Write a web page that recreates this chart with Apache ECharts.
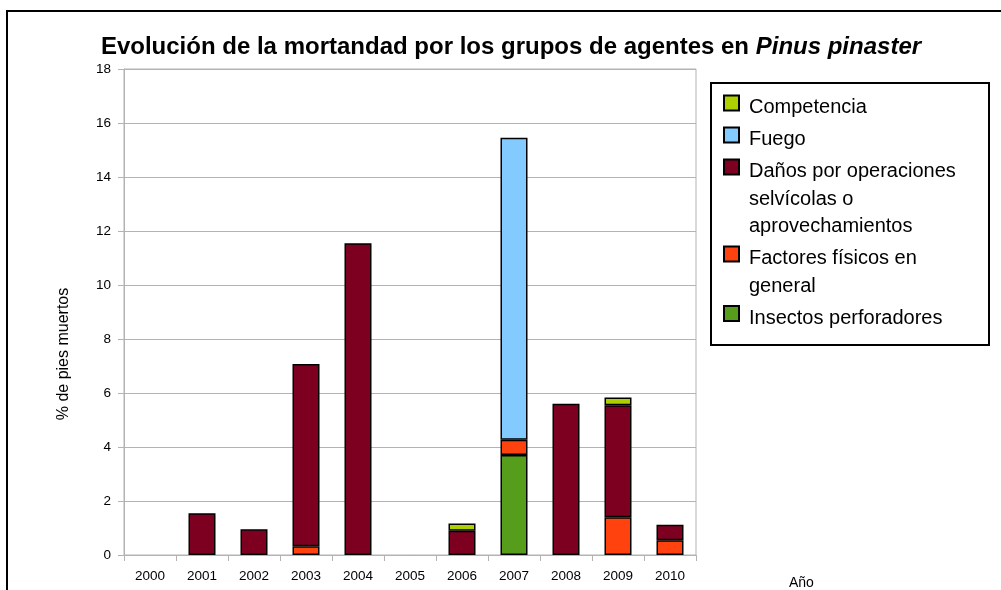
<!DOCTYPE html>
<html>
<head>
<meta charset="utf-8">
<title>Evolución de la mortandad - Pinus pinaster</title>
<script src="https://cdn.jsdelivr.net/npm/echarts@6/dist/echarts.min.js"></script>
<style>
html, body { margin: 0; padding: 0; background: #fff; }
#charts { width: 1001px; height: 590px; }
</style>
</head>
<body>
<div id="charts"></div>
<script>
var years = ['2000', '2001', '2002', '2003', '2004', '2005', '2006', '2007', '2008', '2009', '2010'];

// % de pies muertos, de abajo a arriba en la pila
var insectos    = [0, 0,    0,    0,    0,     0, 0,    3.7,   0,   0,    0];
var factores    = [0, 0,    0,    0.32, 0,     0, 0,    0.57,  0,   1.4,  0.55];
var danos       = [0, 1.55, 0.95, 6.75, 11.55, 0, 0.9,  0,     5.6, 4.15, 0.57];
var fuego       = [0, 0,    0,    0,    0,     0, 0,    11.18, 0,   0,    0];
var competencia = [0, 0,    0,    0,    0,     0, 0.27, 0,     0,   0.28, 0];

var seriesNames = ['Insectos perforadores', 'Factores físicos en general',
    'Daños por operaciones selvícolas o aprovechamientos', 'Fuego', 'Competencia'];
var seriesData = [insectos, factores, danos, fuego, competencia];
var seriesColors = ['#579d1c', '#ff420e', '#7e0021', '#83caff', '#aecf00'];

// texto de la leyenda partido en lineas, mismo orden que seriesNames
var legendLines = [
    ['Insectos perforadores'],
    ['Factores físicos en', 'general'],
    ['Daños por operaciones', 'selvícolas o', 'aprovechamientos'],
    ['Fuego'],
    ['Competencia']
];

var yMin = 0, yMax = 18, yStep = 2;

var charts;

init();

function init() {
    charts = echarts.init(document.getElementById('charts'));
    charts.setOption(buildOption());
}

function buildSeries() {
    var list = [];
    for (var i = 0; i < seriesNames.length; i++) {
        var vals = [];
        for (var j = 0; j < seriesData[i].length; j++) {
            vals.push(seriesData[i][j] === 0 ? null : seriesData[i][j]);
        }
        list.push({
            name: seriesNames[i],
            type: 'bar',
            stack: 'total',
            barWidth: 27,
            data: vals,
            itemStyle: { color: seriesColors[i], borderColor: '#000', borderWidth: 1.5 },
            emphasis: { disabled: true }
        });
    }
    return list;
}

/*
 * una leyenda por elemento, para poder alinear el cuadro con la primera linea
 */
function buildLegends() {
    var lineH = 27.5;
    var gap = 32;
    var center = 106.5;
    var legends = [];
    for (var k = seriesNames.length - 1; k >= 0; k--) {
        var n = legendLines[k].length;
        var h = n * lineH;
        var a = lineH / 2 - 12;
        var icon = 'path://M0,0M20,' + h + 'M0,' + a + 'L15,' + a + 'L15,' + (a + 15) + 'L0,' + (a + 15) + 'Z';
        legends.push({
            data: [{ name: seriesNames[k], icon: icon }],
            left: 723,
            top: center - lineH / 2,
            padding: 0,
            itemWidth: 20,
            itemHeight: h,
            selectedMode: false,
            formatter: (function (lines) {
                return function () { return lines.join('\n'); };
            })(legendLines[k]),
            textStyle: { fontFamily: 'Liberation Sans', fontSize: 20, color: '#000', lineHeight: lineH }
        });
        center += (n - 1) * lineH + gap;
    }
    return legends;
}

function buildOption() {
    return {
        animation: false,
        backgroundColor: '#fff',
        title: {
            text: '{a|Evolución de la mortandad por los grupos de agentes en }{b|Pinus pinaster}',
            left: 511,
            textAlign: 'center',
            top: 35,
            padding: 0,
            textStyle: {
                rich: {
                    a: { fontFamily: 'Liberation Sans', fontSize: 24, fontWeight: 'bold', color: '#000' },
                    b: { fontFamily: 'Liberation Sans', fontSize: 24, fontWeight: 'bold', fontStyle: 'italic', color: '#000' }
                }
            }
        },
        legend: buildLegends(),
        grid: {
            left: 124, top: 69, width: 572, height: 486,
            show: true, borderColor: '#b3b3b3', borderWidth: 1,
            containLabel: false,
            outerBoundsMode: 'none'
        },
        xAxis: {
            type: 'category',
            data: years,
            name: 'Año',
            nameLocation: 'end',
            nameGap: 93,
            nameTextStyle: { fontFamily: 'Liberation Sans', fontSize: 14, color: '#000', verticalAlign: 'top', lineHeight: 57 },
            axisLine: { lineStyle: { color: '#b3b3b3', width: 1 } },
            axisTick: { show: true, length: 6, lineStyle: { color: '#b3b3b3' } },
            axisLabel: { fontFamily: 'Liberation Sans', fontSize: 13.5, color: '#000', margin: 14 }
        },
        yAxis: {
            type: 'value',
            min: yMin, max: yMax, interval: yStep,
            name: '% de pies muertos',
            nameLocation: 'middle',
            nameGap: 52,
            nameTextStyle: { fontFamily: 'Liberation Sans', fontSize: 16, color: '#000', padding: [0, 84, 0, 0] },
            axisLine: { show: true, lineStyle: { color: '#b3b3b3', width: 1 } },
            axisTick: { show: true, length: 6, lineStyle: { color: '#b3b3b3' } },
            axisLabel: { fontFamily: 'Liberation Sans', fontSize: 13.5, color: '#000', margin: 13 },
            splitLine: { lineStyle: { color: '#b3b3b3', width: 1 } }
        },
        graphic: [
            { type: 'rect', z: -1, shape: { x: 7, y: 11, width: 1100, height: 700 },
              style: { fill: 'none', stroke: '#000', lineWidth: 2 } },
            { type: 'rect', shape: { x: 711, y: 83, width: 278, height: 262 },
              style: { fill: 'none', stroke: '#000', lineWidth: 2 } }
        ],
        series: buildSeries()
    };
}
</script>
</body>
</html>
